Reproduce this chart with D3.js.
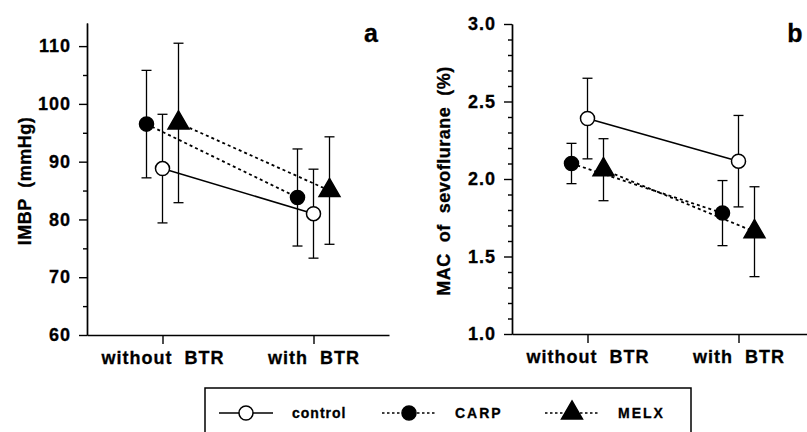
<!DOCTYPE html>
<html>
<head>
<meta charset="utf-8">
<script src="https://cdn.jsdelivr.net/npm/d3@7"></script>
<style>
  body { margin: 0; background: #fff; }
  svg { display: block; font-family: "Liberation Sans", Arial, sans-serif; font-weight: bold; }
  .axis path, .axis line { stroke: #000; stroke-width: 1.4px; }
  .axis text { fill: #000; font-size: 18px; font-weight: bold; font-family: "Liberation Sans", Arial, sans-serif; stroke: #000; stroke-width: 0.3px; }
  .heavy { stroke: #000; stroke-width: 0.3px; }
</style>
</head>
<body>
<div id="chart"></div>
<script>
var width = 807;
var height = 432;

/* Data */
var groups = ["without BTR", "with BTR"];
var series = ["CARP", "control", "MELX"];

var imbpControl = [88.8, 81.0];
var imbpControlSD = [9.4, 7.7];
var imbpCarp = [96.5, 83.8];
var imbpCarpSD = [9.3, 8.4];
var imbpMelx = [96.7, 85.0];
var imbpMelxSD = [13.8, 9.3];

var macControl = [2.39, 2.115];
var macControlSD = [0.26, 0.295];
var macCarp = [2.10, 1.78];
var macCarpSD = [0.13, 0.21];
var macMelx = [2.06, 1.66];
var macMelxSD = [0.20, 0.29];

var imbpTicks = [60, 70, 80, 90, 100, 110];
var imbpMinor = [65, 75, 85, 95, 105];
var macTicks = [1.0, 1.5, 2.0, 2.5, 3.0];
var macMinor = [1.1, 1.2, 1.3, 1.4, 1.6, 1.7, 1.8, 1.9, 2.1, 2.2, 2.3, 2.4, 2.6, 2.7, 2.8, 2.9];

function build(ctrl, ctrlSD, carp, carpSD, melx, melxSD) {
  return [
    {name: "control", mean: ctrl, sd: ctrlSD},
    {name: "CARP", mean: carp, sd: carpSD},
    {name: "MELX", mean: melx, sd: melxSD}
  ];
}

var panels = [
  {
    letter: "a",
    label: "IMBP  (mmHg)",
    data: build(imbpControl, imbpControlSD, imbpCarp, imbpCarpSD, imbpMelx, imbpMelxSD),
    domain: [60, 114], ticks: imbpTicks, minor: imbpMinor, fmt: d3.format("d"),
    x0: 87, x1: 389, yTop: 23, yBot: 335, labelX: 31, letterX: 371
  },
  {
    letter: "b",
    label: "MAC  of  sevoflurane  (%)",
    data: build(macControl, macControlSD, macCarp, macCarpSD, macMelx, macMelxSD),
    domain: [1, 3], ticks: macTicks, minor: macMinor, fmt: d3.format(".1f"),
    x0: 512, x1: 814, yTop: 24, yBot: 334, labelX: 450, letterX: 795
  }
];

var svg = d3.select("#chart").append("svg")
  .attr("width", width)
  .attr("height", height);

var offset = d3.scalePoint().domain(series).range([-16, 16]);
var circle = d3.symbol().type(d3.symbolCircle).size(155);
var triangle = d3.symbol().type(d3.symbolTriangle).size(190);
var dash = {control: null, CARP: "3,3", MELX: "3,3"};

panels.forEach(function(p) {
  var g = svg.append("g");

  var xScale = d3.scalePoint().domain(groups).range([p.x0, p.x1]).padding(0.5);
  var yScale = d3.scaleLinear().domain(p.domain).range([p.yBot, p.yTop]);

  /* axes */
  g.append("g")
    .attr("class", "axis")
    .attr("transform", `translate(${p.x0}, 0)`)
    .call(d3.axisLeft(yScale).tickValues(p.minor).tickSize(4).tickSizeOuter(0).tickFormat(""));

  g.append("g")
    .attr("class", "axis")
    .attr("transform", `translate(${p.x0}, 0)`)
    .call(d3.axisLeft(yScale).tickValues(p.ticks).tickSize(8).tickSizeOuter(0).tickPadding(8).tickFormat(p.fmt))
    .selectAll("text").attr("letter-spacing", "1px");

  g.append("g")
    .attr("class", "axis")
    .attr("transform", `translate(0, ${p.yBot})`)
    .call(d3.axisBottom(xScale).tickSize(9).tickSizeOuter(0).tickPadding(12))
    .selectAll("text").attr("letter-spacing", "1px").attr("dy", "0.45em").style("white-space", "pre")
    .text(d => d.replace(" ", "  "));

  g.append("text")
    .attr("class", "heavy")
    .attr("transform", `translate(${p.labelX}, ${(p.yTop + p.yBot) / 2 + 2}) rotate(-90)`)
    .attr("text-anchor", "middle")
    .attr("font-size", "18px")
    .attr("letter-spacing", "0.5px")
    .style("white-space", "pre")
    .text(p.label);

  g.append("text")
    .attr("class", "heavy")
    .attr("x", p.letterX)
    .attr("y", 42)
    .attr("text-anchor", "middle")
    .attr("font-size", "25px")
    .text(p.letter);

  var px = (d, i) => xScale(groups[i]) + offset(d.name);

  /* connecting lines */
  var line = d3.line().x(d => d.x).y(d => d.y);
  g.selectAll(".series-line")
    .data(p.data)
    .enter()
    .append("path")
    .attr("class", "series-line")
    .attr("d", s => line(s.mean.map((m, i) => ({x: px(s, i), y: yScale(m)}))))
    .attr("fill", "none")
    .attr("stroke", "#000")
    .attr("stroke-width", s => s.name === "control" ? 1.6 : 1.8)
    .attr("stroke-dasharray", s => dash[s.name]);

  /* error bars */
  var pts = [];
  p.data.forEach(function(s) {
    s.mean.forEach(function(m, i) {
      pts.push({name: s.name, x: px(s, i), m: m, sd: s.sd[i]});
    });
  });

  var eb = g.selectAll(".err").data(pts).enter().append("g").attr("class", "err")
    .attr("stroke", "#000").attr("stroke-width", 1.3);
  eb.append("line")
    .attr("x1", d => d.x).attr("x2", d => d.x)
    .attr("y1", d => yScale(d.m + d.sd)).attr("y2", d => yScale(d.m - d.sd));
  eb.append("line")
    .attr("x1", d => d.x - 5).attr("x2", d => d.x + 5)
    .attr("y1", d => yScale(d.m + d.sd)).attr("y2", d => yScale(d.m + d.sd));
  eb.append("line")
    .attr("x1", d => d.x - 5).attr("x2", d => d.x + 5)
    .attr("y1", d => yScale(d.m - d.sd)).attr("y2", d => yScale(d.m - d.sd));

  /* markers */
  g.selectAll(".marker")
    .data(pts)
    .enter()
    .append("path")
    .attr("class", "marker")
    .attr("transform", d => `translate(${d.x}, ${yScale(d.m)})`)
    .attr("d", d => d.name === "MELX" ? triangle() : circle())
    .attr("fill", d => d.name === "control" ? "#fff" : "#000")
    .attr("stroke", "#000")
    .attr("stroke-width", 1.5);
});

/* legend */
var legendItems = ["control", "CARP", "MELX"];
var legendX = d3.scalePoint().domain(legendItems).range([246, 572]);
var legendY = 413;

svg.append("rect")
  .attr("x", 205).attr("y", 388)
  .attr("width", 486).attr("height", 60)
  .attr("fill", "none").attr("stroke", "#000").attr("stroke-width", 1.5);

var leg = svg.selectAll(".legend")
  .data(legendItems)
  .enter()
  .append("g")
  .attr("class", "legend")
  .attr("transform", d => `translate(${legendX(d)}, ${legendY})`);

leg.append("line")
  .attr("x1", -27).attr("x2", 27)
  .attr("stroke", "#000")
  .attr("stroke-width", d => d === "control" ? 1.5 : 1.3)
  .attr("stroke-dasharray", d => d === "control" ? null : "2.5,2.5");

leg.append("path")
  .attr("d", d => d === "MELX" ? triangle() : circle())
  .attr("fill", d => d === "control" ? "#fff" : "#000")
  .attr("stroke", "#000")
  .attr("stroke-width", 1.5);

leg.append("text")
  .attr("class", "heavy")
  .attr("x", 46)
  .attr("y", 5)
  .attr("font-size", "14px")
  .attr("letter-spacing", d => d === "control" ? "1px" : "2px")
  .text(d => d);
</script>
</body>
</html>
